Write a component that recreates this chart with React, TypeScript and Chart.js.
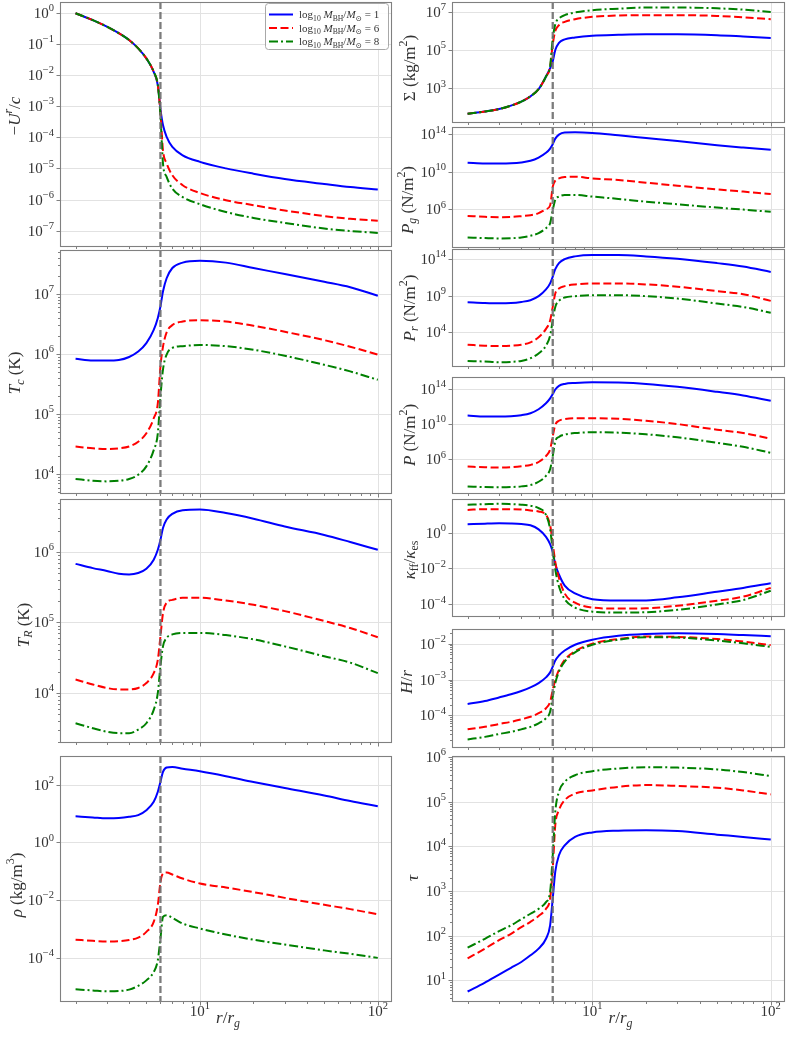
import { useEffect, useRef } from "react";
import {
  Chart,
  LineController,
  LineElement,
  PointElement,
  LogarithmicScale,
} from "chart.js";

Chart.register(LineController, LineElement, PointElement, LogarithmicScale);

// r / r_g sample points shared by every curve
const X = [2, 2.5, 3, 3.5, 4, 4.5, 5, 5.5, 5.8, 6, 6.2, 6.5, 7, 8, 10, 14, 20, 30, 50, 70, 100];
const ISCO = 6;
const MASSES = [1, 6, 8]; // log10 M_BH / M_sun
const X_MAJOR = [10, 100];

// every series is stored as log10 of the value
const UR_M1 = [-0.02, -0.24, -0.45, -0.66, -0.88, -1.15, -1.47, -1.9, -2.33, -3.1, -3.61, -3.99, -4.31, -4.58, -4.79, -5.0, -5.17, -5.34, -5.5, -5.6, -5.68];
const UR_M6 = [-0.02, -0.24, -0.45, -0.66, -0.88, -1.15, -1.47, -1.9, -2.33, -3.2, -4.42, -4.84, -5.22, -5.54, -5.79, -6.02, -6.18, -6.35, -6.53, -6.62, -6.68];
const UR_M8 = [-0.02, -0.24, -0.45, -0.66, -0.88, -1.15, -1.47, -1.9, -2.33, -3.3, -4.84, -5.27, -5.65, -5.92, -6.15, -6.4, -6.59, -6.75, -6.93, -7.01, -7.07];

const TC_M1 = [5.92, 5.89, 5.89, 5.9, 5.95, 6.04, 6.18, 6.4, 6.6, 6.79, 7.04, 7.26, 7.43, 7.52, 7.55, 7.52, 7.43, 7.33, 7.2, 7.11, 6.97];
const TC_M6 = [4.46, 4.43, 4.42, 4.43, 4.46, 4.54, 4.68, 4.93, 5.18, 5.79, 6.12, 6.36, 6.48, 6.54, 6.56, 6.54, 6.47, 6.37, 6.23, 6.12, 5.99];
const TC_M8 = [3.92, 3.89, 3.88, 3.89, 3.92, 3.99, 4.13, 4.4, 4.68, 5.29, 5.74, 5.99, 6.1, 6.13, 6.15, 6.13, 6.07, 5.97, 5.82, 5.71, 5.57];

const TR_M1 = [5.83, 5.77, 5.73, 5.69, 5.68, 5.7, 5.76, 5.89, 6.03, 6.17, 6.34, 6.46, 6.54, 6.59, 6.6, 6.55, 6.47, 6.36, 6.24, 6.14, 6.03];
const TR_M6 = [4.19, 4.12, 4.07, 4.05, 4.05, 4.07, 4.14, 4.28, 4.47, 4.8, 5.13, 5.28, 5.32, 5.35, 5.35, 5.31, 5.25, 5.16, 5.02, 4.92, 4.79];
const TR_M8 = [3.57, 3.5, 3.45, 3.43, 3.43, 3.48, 3.57, 3.76, 4.0, 4.38, 4.66, 4.78, 4.83, 4.85, 4.85, 4.82, 4.76, 4.66, 4.52, 4.43, 4.28];

const RHO_M1 = [0.9, 0.86, 0.83, 0.84, 0.88, 0.94, 1.11, 1.4, 1.75, 2.09, 2.44, 2.59, 2.61, 2.55, 2.46, 2.29, 2.09, 1.88, 1.62, 1.43, 1.25];
const RHO_M6 = [-3.38, -3.42, -3.44, -3.43, -3.39, -3.31, -3.11, -2.76, -2.18, -1.38, -1.09, -1.05, -1.12, -1.26, -1.43, -1.57, -1.73, -1.93, -2.17, -2.32, -2.5];
const RHO_M8 = [-5.1, -5.14, -5.17, -5.16, -5.11, -4.98, -4.79, -4.5, -4.09, -3.34, -2.59, -2.53, -2.62, -2.82, -2.99, -3.2, -3.38, -3.55, -3.75, -3.87, -4.01];

const SIG_M1 = [1.66, 1.77, 1.9, 2.08, 2.29, 2.57, 2.95, 3.61, 4.05, 4.4, 5.0, 5.38, 5.56, 5.66, 5.75, 5.8, 5.83, 5.83, 5.78, 5.71, 5.63];
const SIG_M6 = [1.66, 1.77, 1.9, 2.08, 2.29, 2.57, 2.95, 3.61, 4.1, 5.3, 6.0, 6.3, 6.48, 6.62, 6.74, 6.81, 6.83, 6.83, 6.79, 6.72, 6.62];
const SIG_M8 = [1.66, 1.77, 1.9, 2.08, 2.29, 2.57, 2.95, 3.61, 4.15, 5.6, 6.35, 6.65, 6.83, 6.97, 7.09, 7.17, 7.23, 7.23, 7.19, 7.12, 7.0];

const PG_M1 = [10.96, 10.88, 10.88, 10.9, 10.99, 11.17, 11.52, 12.02, 12.48, 12.94, 13.54, 13.96, 14.18, 14.21, 14.14, 13.89, 13.61, 13.29, 12.83, 12.58, 12.34];
const PG_M6 = [5.29, 5.19, 5.15, 5.17, 5.26, 5.36, 5.58, 6.0, 6.4, 8.4, 9.05, 9.29, 9.43, 9.47, 9.29, 9.12, 8.83, 8.51, 8.12, 7.88, 7.63];
const PG_M8 = [2.99, 2.92, 2.88, 2.9, 2.99, 3.17, 3.45, 3.98, 4.5, 5.9, 7.0, 7.35, 7.52, 7.52, 7.35, 7.1, 6.81, 6.53, 6.18, 5.96, 5.72];

const PR_M1 = [8.1, 8.0, 7.96, 8.0, 8.15, 8.38, 8.93, 9.85, 10.68, 11.6, 12.62, 13.45, 14.0, 14.37, 14.55, 14.55, 14.37, 14.05, 13.45, 12.99, 12.25];
const PR_M6 = [2.29, 2.16, 2.11, 2.16, 2.29, 2.62, 3.31, 4.46, 5.61, 7.46, 9.3, 9.99, 10.31, 10.54, 10.68, 10.68, 10.54, 10.22, 9.62, 9.2, 8.29];
const PR_M8 = [0.08, -0.01, -0.1, -0.05, 0.08, 0.45, 1.1, 2.16, 3.54, 5.61, 7.46, 8.29, 8.75, 8.93, 9.07, 9.07, 8.93, 8.61, 7.92, 7.46, 6.67];

const P_M1 = [10.95, 10.84, 10.84, 10.88, 10.99, 11.21, 11.66, 12.33, 12.88, 13.37, 13.89, 14.3, 14.52, 14.63, 14.71, 14.67, 14.52, 14.19, 13.63, 13.22, 12.62];
const P_M6 = [5.19, 5.12, 5.08, 5.12, 5.23, 5.38, 5.71, 6.38, 7.12, 8.61, 9.91, 10.36, 10.54, 10.65, 10.65, 10.58, 10.36, 9.99, 9.35, 8.98, 8.35];
const P_M8 = [2.96, 2.88, 2.85, 2.88, 2.96, 3.11, 3.48, 4.15, 4.89, 6.38, 8.05, 8.54, 8.8, 8.98, 9.06, 9.02, 8.83, 8.5, 7.87, 7.42, 6.75];

const KAP_M1 = [0.47, 0.51, 0.53, 0.52, 0.49, 0.42, 0.19, -0.23, -0.64, -1.08, -1.77, -2.34, -2.96, -3.4, -3.72, -3.79, -3.79, -3.62, -3.3, -3.09, -2.83];
const KAP_M6 = [1.28, 1.32, 1.32, 1.32, 1.3, 1.25, 1.19, 1.0, 0.43, -0.6, -1.64, -2.53, -3.4, -3.92, -4.19, -4.25, -4.23, -4.09, -3.81, -3.58, -3.09];
const KAP_M8 = [1.57, 1.6, 1.62, 1.6, 1.57, 1.51, 1.38, 1.0, 0.2, -0.98, -2.06, -3.0, -3.72, -4.19, -4.42, -4.47, -4.45, -4.32, -4.02, -3.77, -3.25];

const HR_M1 = [-3.68, -3.6, -3.5, -3.41, -3.32, -3.22, -3.1, -2.94, -2.8, -2.64, -2.47, -2.33, -2.19, -2.03, -1.89, -1.78, -1.73, -1.71, -1.73, -1.76, -1.79];
const HR_M6 = [-4.39, -4.32, -4.24, -4.18, -4.11, -4.04, -3.94, -3.8, -3.62, -3.29, -3.01, -2.73, -2.45, -2.21, -2.0, -1.87, -1.8, -1.81, -1.87, -1.94, -2.04];
const HR_M8 = [-4.67, -4.6, -4.52, -4.46, -4.39, -4.32, -4.22, -4.08, -3.9, -3.48, -3.1, -2.78, -2.5, -2.24, -2.03, -1.89, -1.82, -1.83, -1.91, -1.99, -2.09];

const TAU_M1 = [0.75, 0.95, 1.13, 1.28, 1.41, 1.56, 1.71, 1.93, 2.23, 2.83, 3.43, 3.8, 4.02, 4.21, 4.31, 4.35, 4.36, 4.34, 4.26, 4.21, 4.15];
const TAU_M6 = [1.49, 1.71, 1.9, 2.04, 2.19, 2.31, 2.44, 2.6, 2.83, 3.5, 4.47, 4.81, 5.03, 5.18, 5.25, 5.33, 5.37, 5.35, 5.31, 5.25, 5.16];
const TAU_M8 = [1.73, 1.93, 2.1, 2.23, 2.37, 2.49, 2.6, 2.75, 2.98, 3.8, 4.77, 5.22, 5.44, 5.59, 5.68, 5.74, 5.77, 5.76, 5.72, 5.66, 5.57];

// y tick decades per panel
const UR_TICKS = [0, -1, -2, -3, -4, -5, -6, -7];
const TC_TICKS = [4, 5, 6, 7];
const TR_TICKS = [4, 5, 6];
const RHO_TICKS = [-4, -2, 0, 2];
const SIG_TICKS = [3, 5, 7];
const PG_TICKS = [6, 10, 14];
const PR_TICKS = [4, 9, 14];
const P_TICKS = [6, 10, 14];
const KAP_TICKS = [-4, -2, 0];
const HR_TICKS = [-4, -3, -2];
const TAU_TICKS = [1, 2, 3, 4, 5, 6];

const FONT = '"Liberation Serif", "DejaVu Serif", serif';
const INK = "#333333";
const SPINE = "#808080";
const GRID = "#e2e2e2";
const XMIN = 1.635;
const XMAX = 120.2;

const STYLES = [
  { color: "#0000ff", dash: [] as number[], order: 3 },
  { color: "#ff0000", dash: [8, 3.5], order: 2 },
  { color: "#008000", dash: [9, 3, 2, 3], order: 1 },
];

type Seg = { t: string; it?: boolean; sup?: boolean; sub?: boolean };

const COLS = [
  { left: 60, right: 392 },
  { left: 452, right: 785 },
];

type Panel = {
  key: string;
  col: number;
  top: number;
  bottom: number;
  yr: [number, number];
  ticks: number[];
  minor?: boolean;
  title: Seg[];
  tx: number;
  ty: number;
  series: number[][];
  legend?: boolean;
  xlabels?: boolean;
};

const PANELS: Panel[] = [
  {
    key: "ur", col: 0, top: 2, bottom: 247, yr: [-7.52, 0.34], ticks: UR_TICKS,
    title: [{ t: "−" }, { t: "U", it: true }, { t: "r", it: true, sup: true }, { t: "/" }, { t: "c", it: true }],
    tx: 14, ty: 116, series: [UR_M1, UR_M6, UR_M8], legend: true,
  },
  {
    key: "tc", col: 0, top: 250, bottom: 494, yr: [3.67, 7.73], ticks: TC_TICKS, minor: true,
    title: [{ t: "T", it: true }, { t: "c", it: true, sub: true }, { t: " (K)" }],
    tx: 14.5, ty: 373, series: [TC_M1, TC_M6, TC_M8],
  },
  {
    key: "tr", col: 0, top: 499, bottom: 743, yr: [3.29, 6.75], ticks: TR_TICKS, minor: true,
    title: [{ t: "T", it: true }, { t: "R", it: true, sub: true }, { t: " (K)" }],
    tx: 23, ty: 625, series: [TR_M1, TR_M6, TR_M8],
  },
  {
    key: "rho", col: 0, top: 756, bottom: 1002, yr: [-5.54, 2.99], ticks: RHO_TICKS,
    title: [{ t: "ρ", it: true }, { t: " (kg/m" }, { t: "3", sup: true }, { t: ")" }],
    tx: 16, ty: 885, series: [RHO_M1, RHO_M6, RHO_M8], xlabels: true,
  },
  {
    key: "sig", col: 1, top: 2, bottom: 123, yr: [1.17, 7.52], ticks: SIG_TICKS,
    title: [{ t: "Σ" }, { t: " (kg/m" }, { t: "2", sup: true }, { t: ")" }],
    tx: 409, ty: 68, series: [SIG_M1, SIG_M6, SIG_M8],
  },
  {
    key: "pg", col: 1, top: 127, bottom: 248, yr: [1.86, 14.78], ticks: PG_TICKS,
    title: [{ t: "P", it: true }, { t: "g", it: true, sub: true }, { t: " (N/m" }, { t: "2", sup: true }, { t: ")" }],
    tx: 407, ty: 200, series: [PG_M1, PG_M6, PG_M8],
  },
  {
    key: "pr", col: 1, top: 249, bottom: 367, yr: [-0.75, 15.38], ticks: PR_TICKS,
    title: [{ t: "P", it: true }, { t: "r", it: true, sub: true }, { t: " (N/m" }, { t: "2", sup: true }, { t: ")" }],
    tx: 409, ty: 308, series: [PR_M1, PR_M6, PR_M8],
  },
  {
    key: "p", col: 1, top: 377, bottom: 494, yr: [2.1, 15.3], ticks: P_TICKS,
    title: [{ t: "P", it: true }, { t: " (N/m" }, { t: "2", sup: true }, { t: ")" }],
    tx: 409, ty: 435, series: [P_M1, P_M6, P_M8],
  },
  {
    key: "kap", col: 1, top: 499, bottom: 617, yr: [-4.72, 1.89], ticks: KAP_TICKS,
    title: [{ t: "κ", it: true }, { t: "ff", sub: true }, { t: "/" }, { t: "κ", it: true }, { t: "es", sub: true }],
    tx: 409, ty: 560, series: [KAP_M1, KAP_M6, KAP_M8],
  },
  {
    key: "hr", col: 1, top: 629, bottom: 748, yr: [-4.91, -1.59], ticks: HR_TICKS, minor: true,
    title: [{ t: "H", it: true }, { t: "/" }, { t: "r", it: true }],
    tx: 406, ty: 682, series: [HR_M1, HR_M6, HR_M8],
  },
  {
    key: "tau", col: 1, top: 756, bottom: 1002, yr: [0.515, 6.02], ticks: TAU_TICKS, minor: true,
    title: [{ t: "τ", it: true }],
    tx: 412, ty: 878, series: [TAU_M1, TAU_M6, TAU_M8], xlabels: true,
  },
];

const X_TITLE: Seg[] = [{ t: "r", it: true }, { t: "/" }, { t: "r", it: true }, { t: "g", it: true, sub: true }];

const PAD_L = 60;
const PAD_T = 12;
const PAD_R = 4;

function segFont(s: Seg, size: number) {
  const sz = s.sup || s.sub ? size * 0.7 : size;
  return `${s.it ? "italic " : ""}${sz}px ${FONT}`;
}

function richWidth(ctx: CanvasRenderingContext2D, segs: Seg[], size: number) {
  let w = 0;
  for (const s of segs) {
    ctx.font = segFont(s, size);
    w += ctx.measureText(s.t).width;
  }
  return w;
}

function drawRich(ctx: CanvasRenderingContext2D, segs: Seg[], x: number, y: number, size: number, align: string) {
  const w = richWidth(ctx, segs, size);
  let cx = align === "center" ? x - w / 2 : align === "right" ? x - w : x;
  ctx.textAlign = "left";
  ctx.textBaseline = "alphabetic";
  for (const s of segs) {
    ctx.font = segFont(s, size);
    const dy = s.sup ? -size * 0.44 : s.sub ? size * 0.22 : 0;
    ctx.fillText(s.t, cx, y + dy);
    cx += ctx.measureText(s.t).width;
  }
}

function decade(e: number): Seg[] {
  return [{ t: "10" }, { t: e < 0 ? "−" + -e : String(e), sup: true }];
}

function legendText(m: number): Seg[] {
  return [
    { t: "log" }, { t: "10", sub: true }, { t: " " },
    { t: "M", it: true }, { t: "BH", sub: true }, { t: "/" },
    { t: "M", it: true }, { t: "⊙", sub: true }, { t: ` = ${m}` },
  ];
}

function hline(ctx: CanvasRenderingContext2D, x0: number, x1: number, y: number) {
  ctx.beginPath();
  ctx.moveTo(x0, y);
  ctx.lineTo(x1, y);
  ctx.stroke();
}

function vline(ctx: CanvasRenderingContext2D, x: number, y0: number, y1: number) {
  ctx.beginPath();
  ctx.moveTo(x, y0);
  ctx.lineTo(x, y1);
  ctx.stroke();
}

function makeDeco(p: Panel, cl: number, ct: number) {
  return {
    id: "deco-" + p.key,
    beforeDatasetsDraw(chart: any) {
      const { ctx, chartArea: a, scales } = chart;
      ctx.save();
      ctx.strokeStyle = GRID;
      ctx.lineWidth = 1;
      for (const e of p.ticks) {
        const py = Math.round(scales.y.getPixelForValue(10 ** e)) + 0.5;
        hline(ctx, a.left, a.right, py);
      }
      for (const v of X_MAJOR) {
        const px = Math.round(scales.x.getPixelForValue(v)) + 0.5;
        vline(ctx, px, a.top, a.bottom);
      }
      ctx.restore();
    },
    afterDatasetsDraw(chart: any) {
      const { ctx, chartArea: a, scales } = chart;
      ctx.save();
      ctx.strokeStyle = "rgba(110,110,110,0.9)";
      ctx.lineWidth = 2.3;
      ctx.setLineDash([7, 3]);
      vline(ctx, scales.x.getPixelForValue(ISCO), a.top, a.bottom);
      ctx.restore();
    },
    afterDraw(chart: any) {
      const { ctx, chartArea: a, scales } = chart;
      ctx.save();
      // frame
      ctx.strokeStyle = SPINE;
      ctx.lineWidth = 1.1;
      ctx.strokeRect(a.left + 0.5, a.top + 0.5, a.right - a.left - 1, a.bottom - a.top - 1);

      // x ticks
      ctx.lineWidth = 1;
      for (let e = 0; e <= 2; e++) {
        for (let m = 1; m <= 9; m++) {
          const v = m * 10 ** e;
          if (v < XMIN || v > XMAX) continue;
          const px = Math.round(scales.x.getPixelForValue(v)) + 0.5;
          vline(ctx, px, a.bottom, a.bottom + (m === 1 ? 3.5 : 2));
        }
      }
      // y ticks
      const lo = Math.floor(p.yr[0]);
      const hi = Math.ceil(p.yr[1]);
      for (const e of p.ticks) {
        const py = Math.round(scales.y.getPixelForValue(10 ** e)) + 0.5;
        hline(ctx, a.left - 3.5, a.left, py);
      }
      if (p.minor) {
        for (let e = lo; e <= hi; e++) {
          for (let m = 2; m <= 9; m++) {
            const lv = e + Math.log10(m);
            if (lv < p.yr[0] || lv > p.yr[1]) continue;
            const py = Math.round(scales.y.getPixelForValue(m * 10 ** e)) + 0.5;
            hline(ctx, a.left - 2, a.left, py);
          }
        }
      }

      // tick labels
      ctx.fillStyle = INK;
      for (const e of p.ticks) {
        const py = scales.y.getPixelForValue(10 ** e);
        drawRich(ctx, decade(e), a.left - 6, py + 5, 15, "right");
      }
      if (p.xlabels) {
        for (const v of X_MAJOR) {
          const px = scales.x.getPixelForValue(v);
          drawRich(ctx, decade(Math.round(Math.log10(v))), px, a.bottom + 14, 15, "center");
        }
        drawRich(ctx, X_TITLE, (a.left + a.right) / 2 + 2, a.bottom + 21, 17, "center");
      }

      // y title
      ctx.save();
      ctx.translate(p.tx - cl, p.ty - ct);
      ctx.rotate(-Math.PI / 2);
      drawRich(ctx, p.title, 0, 17 * 0.33, 17, "center");
      ctx.restore();

      if (p.legend) {
        const bw = 123;
        const bh = 46;
        const bx = a.right - 4 - bw;
        const by = a.top + 1;
        ctx.fillStyle = "rgba(255,255,255,0.85)";
        ctx.strokeStyle = "#a8a8a8";
        ctx.lineWidth = 1;
        ctx.beginPath();
        ctx.roundRect(bx + 0.5, by + 0.5, bw, bh, 3);
        ctx.fill();
        ctx.stroke();
        MASSES.forEach((m, i) => {
          const cy = by + 11.5 + i * 13.5;
          const st = STYLES[i];
          ctx.strokeStyle = st.color;
          ctx.lineWidth = 2;
          ctx.setLineDash(st.dash);
          hline(ctx, bx + 4, bx + 28, cy);
          ctx.setLineDash([]);
          ctx.fillStyle = INK;
          drawRich(ctx, legendText(m), bx + 34, cy + 3.8, 11, "left");
        });
      }
      ctx.restore();
    },
  };
}

function PanelChart({ p }: { p: Panel }) {
  const canvasRef = useRef<HTMLCanvasElement | null>(null);
  const col = COLS[p.col];
  const padB = p.xlabels ? 40 : 8;
  const left = col.left - PAD_L;
  const top = p.top - PAD_T;
  const width = col.right - col.left + PAD_L + PAD_R;
  const height = p.bottom - p.top + PAD_T + padB;

  useEffect(() => {
    const canvas = canvasRef.current;
    if (!canvas) return;
    const chart = new Chart(canvas, {
      type: "line",
      data: {
        datasets: p.series.map((s, i) => ({
          data: X.map((x, j) => ({ x, y: 10 ** s[j] })),
          borderColor: STYLES[i].color,
          borderWidth: 2,
          borderDash: STYLES[i].dash,
          borderCapStyle: "butt",
          pointRadius: 0,
          cubicInterpolationMode: "monotone",
          fill: false,
          order: STYLES[i].order,
        })),
      },
      options: {
        animation: false,
        responsive: true,
        maintainAspectRatio: false,
        events: [],
        layout: { padding: { left: PAD_L, top: PAD_T, right: PAD_R, bottom: padB } },
        plugins: { legend: { display: false }, tooltip: { enabled: false } },
        scales: {
          x: { type: "logarithmic", min: XMIN, max: XMAX, display: false },
          y: { type: "logarithmic", min: 10 ** p.yr[0], max: 10 ** p.yr[1], display: false },
        },
      } as any,
      plugins: [makeDeco(p, left, top) as any],
    });
    return () => chart.destroy();
  }, []);

  return (
    <div style={{ position: "absolute", left, top, width, height }}>
      <canvas ref={canvasRef} />
    </div>
  );
}

export default function App() {
  return (
    <div
      style={{
        position: "absolute",
        left: 0,
        top: 0,
        width: 789,
        height: 1038,
        background: "#ffffff",
        overflow: "hidden",
      }}
    >
      {PANELS.map((p) => (
        <PanelChart key={p.key} p={p} />
      ))}
    </div>
  );
}
